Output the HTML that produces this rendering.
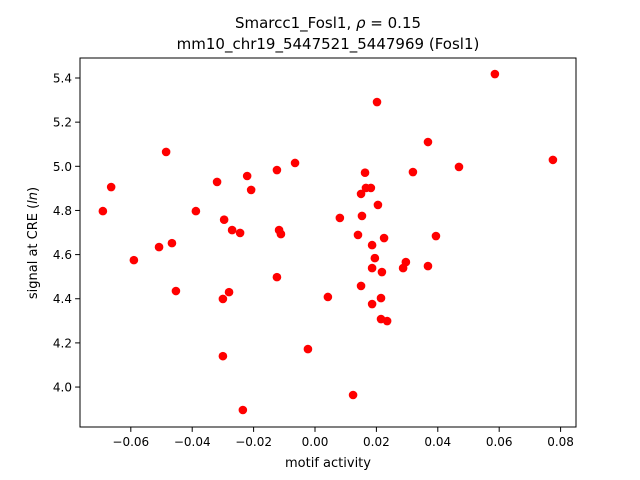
<!DOCTYPE html>
<html><head><meta charset="utf-8"><style>
body{margin:0;background:#fff}
svg{display:block;font-family:"DejaVu Sans","Liberation Sans",sans-serif}
</style></head><body>
<svg id="chart" width="640" height="480" viewBox="0 0 640 480" xmlns="http://www.w3.org/2000/svg">
<rect width="640" height="480" fill="#fff"/>
<text x="328" y="28" text-anchor="middle" font-size="15">Smarcc1_Fosl1, <tspan font-style="italic">ρ</tspan> = 0.15</text>
<text x="328" y="49" text-anchor="middle" font-size="15">mm10_chr19_5447521_5447969 (Fosl1)</text>
<g id="plot"></g>
<text x="328" y="467" text-anchor="middle" font-size="13">motif activity</text>
<text transform="translate(37,243) rotate(-90)" text-anchor="middle" font-size="13">signal at CRE (<tspan font-style="italic">ln</tspan>)</text>
</svg>
<script>
const xValues=[-0.0691,-0.0664,-0.0590,-0.0508,-0.0485,-0.0466,-0.0453,-0.0388,-0.0319,-0.0296,-0.0300,-0.0300,-0.0280,-0.0270,-0.0244,-0.0235,-0.0221,-0.0208,-0.0124,-0.0124,-0.0117,-0.0111,-0.0065,-0.0023,0.0042,0.0081,0.0124,0.0140,0.0150,0.0150,0.0153,0.0163,0.0166,0.0182,0.0186,0.0186,0.0186,0.0195,0.0202,0.0205,0.0215,0.0218,0.0225,0.0235,0.0287,0.0296,0.0319,0.0368,0.0368,0.0394,0.0469,0.0586,0.0775,0.0215];
const yValues=[4.797,4.906,4.575,4.634,5.065,4.652,4.435,4.797,4.929,4.758,4.399,4.140,4.430,4.711,4.698,3.896,4.956,4.893,4.983,4.498,4.711,4.693,5.015,4.172,4.408,4.766,3.964,4.689,4.875,4.458,4.775,4.971,4.902,4.902,4.643,4.539,4.376,4.584,5.291,4.825,4.403,4.521,4.675,4.299,4.539,4.566,4.974,5.110,4.548,4.684,4.997,5.418,5.029,4.308];
const xTicks=[-0.06,-0.04,-0.02,0.00,0.02,0.04,0.06,0.08];
const xTickLabels=["−0.06","−0.04","−0.02","0.00","0.02","0.04","0.06","0.08"];
const yTicks=[4.0,4.2,4.4,4.6,4.8,5.0,5.2,5.4];
const yTickLabels=["4.0","4.2","4.4","4.6","4.8","5.0","5.2","5.4"];
const L=80,R=576,T=58,B=427;
const xMin=-0.07655,xMax=0.08502,yMin=3.819,yMax=5.4906;
const sx=v=>L+(v-xMin)/(xMax-xMin)*(R-L);
const sy=v=>B-(v-yMin)/(yMax-yMin)*(B-T);
const NS="http://www.w3.org/2000/svg";
const g=document.getElementById('plot');
function mk(t,a){const e=document.createElementNS(NS,t);for(const k in a)e.setAttribute(k,a[k]);g.appendChild(e);return e;}
xValues.forEach((x,i)=>{
 const c=mk('circle',{cx:sx(x),cy:sy(yValues[i]),r:4.3,fill:'#ff0000'});
 
 
});
const fr=mk('rect',{x:L,y:T,width:R-L,height:B-T,fill:'none',stroke:'#000','stroke-width':1});


xTicks.forEach((v,i)=>{
 const x=sx(v);
 const l=mk('line',{x1:x,x2:x,y1:B,y2:B+4.9,stroke:'#000'});
 
 
 const t=mk('text',{x:x,y:B+19,'text-anchor':'middle','font-size':12});
 t.textContent=xTickLabels[i];
 
 
});
yTicks.forEach((v,i)=>{
 const y=sy(v);
 const l=mk('line',{x1:L-4.9,x2:L,y1:y,y2:y,stroke:'#000'});
 
 
 const t=mk('text',{x:L-8,y:y+4.5,'text-anchor':'end','font-size':12});
 t.textContent=yTickLabels[i];
 
 
});
</script>
</body></html>
